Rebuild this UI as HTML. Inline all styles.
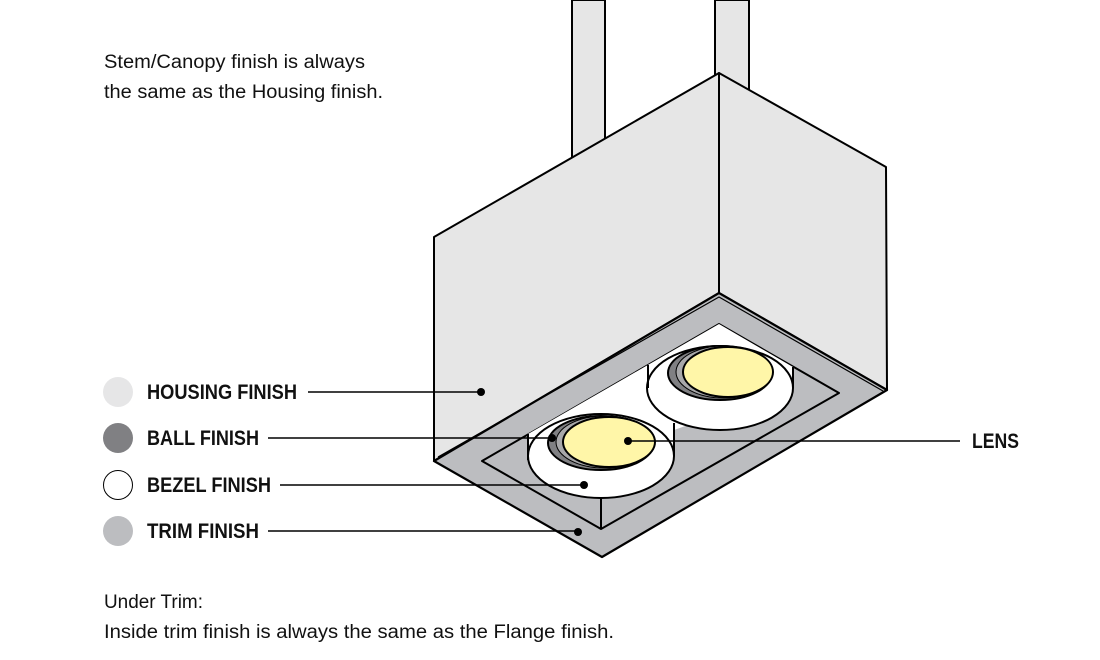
<!DOCTYPE html>
<html><head><meta charset="utf-8"><style>html,body{margin:0;padding:0;background:#fff}svg{display:block}</style></head>
<body>
<svg width="1100" height="660" viewBox="0 0 1100 660" xmlns="http://www.w3.org/2000/svg" font-family="'Liberation Sans', sans-serif">
<g stroke="#000" stroke-width="2" stroke-linejoin="round">
<polygon points="572,0 605,0 605,140 572,158" fill="#e6e6e6"/>
<polygon points="715,0 749,0 749,90 715,75" fill="#e6e6e6"/>
<polygon points="434,237 719,73 719,293 434,461" fill="#e6e6e6"/>
<polygon points="719,73 886,167 887,390 719,293" fill="#e6e6e6"/>
<polygon points="434,461 719,293 887,390 602,557" fill="#bcbdc0" stroke-width="2.2"/>
<polyline points="438,457 719,297 883,391" fill="none" stroke-width="1.2"/>
<polygon points="482,461 719,324 839,393 601,529" fill="#bcbdc0"/>
<polygon points="528,434 719,324 793,367 793,388 674,430 674,456 601,498 528,460" fill="#fff" stroke="none"/>
<line x1="601" y1="498" x2="601" y2="529"/>
<ellipse cx="720" cy="388" rx="73" ry="42" fill="#fff"/>
<line x1="648" y1="365" x2="648" y2="388"/>
<line x1="793" y1="367" x2="793" y2="388"/>
<ellipse cx="720" cy="373" rx="52" ry="27" fill="#808083"/>
<ellipse cx="724" cy="372" rx="48" ry="26" fill="#a8a8aa" stroke-width="1"/>
<ellipse cx="728" cy="372" rx="45" ry="25" fill="#fff6a8"/>
<line x1="528" y1="434" x2="528" y2="460"/>
<line x1="674" y1="423" x2="674" y2="456"/>
<ellipse cx="601" cy="456" rx="73" ry="42" fill="#fff"/>
<ellipse cx="601" cy="443" rx="53" ry="27" fill="#808083"/>
<ellipse cx="605" cy="442" rx="49" ry="26" fill="#a8a8aa" stroke-width="1"/>
<ellipse cx="609" cy="442" rx="46" ry="25" fill="#fff6a8"/>
</g>
<g stroke="#000" stroke-width="1.5">
<line x1="308" y1="392" x2="480" y2="392"/>
<line x1="268" y1="438" x2="552" y2="438"/>
<line x1="280" y1="485" x2="584" y2="485"/>
<line x1="268" y1="531" x2="578" y2="531"/>
<line x1="627" y1="441" x2="960" y2="441"/>
</g>
<g fill="#000">
<circle cx="481" cy="392" r="4"/><circle cx="552" cy="438" r="4"/><circle cx="584" cy="485" r="4"/><circle cx="578" cy="532" r="4"/><circle cx="628" cy="441" r="4"/>
</g>
<circle cx="118" cy="392" r="15" fill="#e6e6e7"/>
<circle cx="118" cy="438" r="15" fill="#808083"/>
<circle cx="118" cy="485" r="14.5" fill="#fff" stroke="#000" stroke-width="1"/>
<circle cx="118" cy="531" r="15" fill="#bcbdc0"/>
<g font-family="'Liberation Sans Narrow','Liberation Sans',sans-serif" font-weight="bold" font-size="21" fill="#111">
<text x="147" y="399" textLength="150" lengthAdjust="spacingAndGlyphs">HOUSING FINISH</text>
<text x="147" y="445" textLength="112" lengthAdjust="spacingAndGlyphs">BALL FINISH</text>
<text x="147" y="492" textLength="124" lengthAdjust="spacingAndGlyphs">BEZEL FINISH</text>
<text x="147" y="538" textLength="112" lengthAdjust="spacingAndGlyphs">TRIM FINISH</text>
<text x="972" y="448" textLength="47" lengthAdjust="spacingAndGlyphs">LENS</text>
</g>
<g font-size="19" fill="#111">
<text x="104" y="68" textLength="261" lengthAdjust="spacingAndGlyphs">Stem/Canopy finish is always</text>
<text x="104" y="98" textLength="279" lengthAdjust="spacingAndGlyphs">the same as the Housing finish.</text>
<text x="104" y="608" textLength="99" lengthAdjust="spacingAndGlyphs">Under Trim:</text>
<text x="104" y="638" textLength="510" lengthAdjust="spacingAndGlyphs">Inside trim finish is always the same as the Flange finish.</text>
</g>
</svg>
</body></html>
